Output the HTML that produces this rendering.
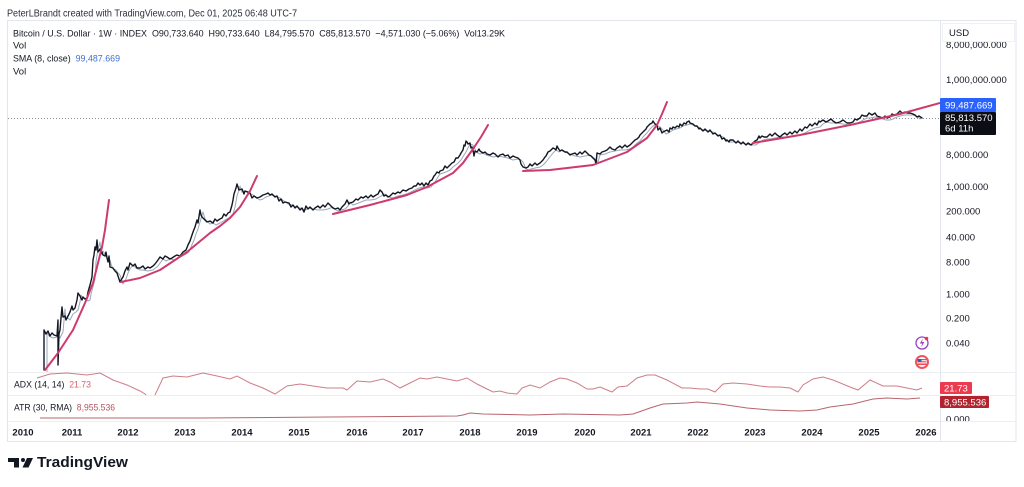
<!DOCTYPE html>
<html><head><meta charset="utf-8"><style>
html,body{margin:0;padding:0;background:#fff;}
svg{display:block;font-family:"Liberation Sans",sans-serif;}
</style></head><body>
<svg width="1024" height="487" viewBox="0 0 1024 487" xmlns="http://www.w3.org/2000/svg">
<defs>
<clipPath id="main"><rect x="8" y="21" width="932" height="351"/></clipPath>
<clipPath id="adx"><rect x="8" y="372" width="932" height="23"/></clipPath>
<clipPath id="axisclip"><rect x="941" y="42" width="75" height="379"/></clipPath>
</defs>
<rect width="1024" height="487" fill="#fff"/>
<text x="7" y="16.5" font-size="10" fill="#2a2e39" textLength="290" lengthAdjust="spacingAndGlyphs">PeterLBrandt created with TradingView.com, Dec 01, 2025 06:48 UTC-7</text>

<!-- panel -->
<rect x="7.5" y="20.5" width="1008.5" height="421" fill="#fff" stroke="#e3e6ec" stroke-width="1"/>
<line x1="8" y1="372.5" x2="1016" y2="372.5" stroke="#eceef2"/>
<line x1="8" y1="395.5" x2="1016" y2="395.5" stroke="#eceef2"/>
<line x1="8" y1="421.5" x2="1016" y2="421.5" stroke="#eceef2"/>
<line x1="940.5" y1="21" x2="940.5" y2="441" stroke="#e3e6ec"/>

<!-- legend -->
<g font-size="9.5" fill="#131722">
<text x="13" y="36.5" textLength="492" lengthAdjust="spacingAndGlyphs">Bitcoin / U.S. Dollar · 1W · INDEX&#160;&#160;O90,733.640&#160;&#160;H90,733.640&#160;&#160;L84,795.570&#160;&#160;C85,813.570&#160;&#160;−4,571.030 (−5.06%)&#160;&#160;Vol13.29K</text>
<text x="13" y="48.5">Vol</text>
<text x="13" y="61.5" textLength="107" lengthAdjust="spacingAndGlyphs">SMA (8, close)&#160;&#160;<tspan fill="#3f6fd1">99,487.669</tspan></text>
<text x="13" y="74.5">Vol</text>
</g>

<!-- dotted current price line -->
<line x1="8" y1="118.5" x2="940" y2="118.5" stroke="#8a8e99" stroke-width="1" stroke-dasharray="1,2"/>

<g clip-path="url(#main)" fill="none" stroke-linejoin="round" stroke-linecap="round">
<!-- SMA approx -->
<polyline transform="translate(3,2)" stroke="#9aa7ba" stroke-width="1" points="44,370 44,330 46,334 50,336 54,335 57,336 60,330 62,307 63,317 65,316 67,318 70,312 73,310 75,308 77,300 78,293 80,296 83,297 85,299 87,298 88,292 90,285 92,277 93,260 95,247 97,240 98,252 100,249 102,252 103,255 105,256 107,258 108,262 110,267 113,268 115,271 117,273 119,279 120,282 121,280 123,277 125,271 127,267 130,263 133,266 137,268 140,268 145,269 150,268 155,264 160,257 163,259 167,257 172,258 177,255 183,252 186,250 188,245 191,238 193,232 195,227 197,220 200,210 202,217 205,220 207,222 210,221 213,223 217,221 222,218 226,216 230,212 232,205 234,194 236,188 237,184 239,190 242,189 245,191 248,192 250,193 254,196 257,198 260,197 263,195 266,194 268,193 272,194 277,196 281,199 285,202 289,203 293,205 297,206 302,208 306,206 310,207 315,208 320,208 325,207 330,205 333,208 335,209 338,208 342,207 345,204 347,200 350,203 353,202 358,200 363,198 368,198 373,197 378,194 382,192 386,195 390,196 395,194 400,193 406,191 412,188 416,186 420,185 424,186 428,185 432,180 435,175 437,172 440,171 443,170 447,168 450,165 454,162 458,158 461,153 463,150 465,146 467,142 470,143 472,147 473,150 475,151 477,152 480,151 483,153 487,154 490,155 495,154 500,155 505,156 510,158 515,157 518,158 520,160 523,167 526,168 528,167 532,166 537,165 540,163 543,160 546,156 550,151 553,148 556,150 558,148 562,150 567,152 572,154 577,155 582,154 587,153 591,156 595,160 597,153 602,152 607,150 612,149 617,148 622,148 627,147 630,145 633,142 637,139 640,135 644,131 647,127 650,124 652,123 655,124 657,125 660,128 663,132 665,131 667,130 670,128 673,127 677,126 680,124 684,123 687,122 690,123 693,124 697,126 700,128 705,129 710,130 715,133 720,135 724,138 727,140 730,140 733,140 738,141 743,142 748,143 753,143 757,140 760,138 764,137 767,137 772,136 777,135 782,135 787,135 792,134 797,133 802,131 807,128 812,126 817,125 820,122 823,120 828,121 833,121 840,122 847,123 850,123 853,122 857,120 860,118 864,116 867,116 872,115 877,116 880,117 883,118 887,118 890,117 894,115 897,114 902,113 907,113 910,113 913,114 915,115 917,117"/>
<!-- price -->
<polyline stroke="#131722" stroke-width="1.4" points="44,370 44,330 46,334 48,331 50,336 52,333 54,335 57,336 58,320 58,365 59,334 60,330 61,318 62,307 63,317 65,316 66,320 67,318 69,314 70,312 72,306 73,310 75,308 77,300 78,293 80,296 82,300 83,297 85,299 87,298 88,292 90,285 91,281 92,277 93,260 94,255 95,247 96,250 97,240 98,252 100,249 101,254 102,252 103,255 105,256 106,252 107,258 108,262 109,256 110,267 113,268 115,271 117,273 118,276 119,279 120,282 121,280 123,277 125,271 127,267 128,270 130,263 132,265 133,266 135,264 137,268 140,268 143,266 145,269 148,267 150,268 153,266 155,264 158,260 160,257 163,259 165,256 167,257 170,259 172,258 175,256 177,255 180,256 183,252 186,250 188,245 190,241 191,238 193,232 195,227 197,220 198,223 200,210 201,215 202,217 205,220 207,222 210,221 213,223 215,219 217,221 220,219 222,218 224,214 226,216 228,213 230,212 232,205 233,200 234,194 236,188 237,184 238,187 239,190 242,189 244,194 245,191 248,192 250,193 252,198 254,196 257,198 260,197 263,195 266,194 268,193 270,195 272,194 275,197 277,196 279,201 281,199 283,203 285,202 289,203 291,207 293,205 295,208 297,206 300,210 302,208 304,212 306,206 308,209 310,207 313,210 315,208 318,206 320,208 323,205 325,207 328,203 330,205 333,208 335,209 338,208 340,210 342,207 345,204 347,200 349,204 350,203 353,202 356,199 358,200 361,197 363,198 366,196 368,198 371,195 373,197 376,195 378,194 380,190 382,192 384,196 386,195 388,197 390,196 393,193 395,194 398,192 400,193 403,190 406,191 409,189 412,188 414,186 416,186 418,183 420,185 422,183 424,186 426,183 428,185 430,181 432,180 434,176 435,175 437,172 439,173 440,171 443,170 445,166 447,168 450,165 452,163 454,162 456,158 458,158 460,155 461,153 463,150 464,145 465,146 466,141 467,142 468,144 470,143 471,148 472,147 473,150 474,156 475,151 477,152 479,149 480,151 483,153 485,152 487,154 490,155 493,153 495,154 498,157 500,155 503,154 505,156 508,155 510,158 513,156 515,157 518,158 520,160 521,164 523,167 526,168 528,167 530,164 532,166 535,163 537,165 540,163 543,160 545,157 546,156 548,152 550,151 553,148 555,149 556,150 557,146 558,148 560,151 562,150 565,152 567,152 570,155 572,154 575,153 577,155 580,152 582,154 585,151 587,153 589,155 591,156 593,158 595,160 596,164 597,153 600,154 602,152 605,151 607,150 610,147 612,149 615,150 617,148 620,146 622,148 625,145 627,147 630,145 633,142 635,140 637,139 639,137 640,135 642,133 644,131 646,129 647,127 649,125 650,124 652,123 653,121 655,124 657,125 658,130 660,128 662,133 663,132 665,131 667,130 669,132 670,128 672,129 673,127 675,128 677,126 679,127 680,124 682,126 684,123 686,124 687,122 689,121 690,123 693,124 695,126 697,126 699,129 700,128 703,131 705,129 708,132 710,130 713,134 715,133 718,136 720,135 722,139 724,138 726,141 727,140 729,142 730,140 733,140 736,143 738,141 741,144 743,142 746,145 748,143 751,145 753,143 755,141 757,140 759,136 760,138 762,136 764,137 767,137 770,134 772,136 775,133 777,135 780,137 782,135 785,133 787,135 790,132 792,134 795,131 797,133 800,129 802,131 805,127 807,128 810,124 812,126 815,123 817,125 819,121 820,122 823,120 826,122 828,121 831,119 833,121 836,123 840,122 843,120 847,123 850,123 853,122 855,119 857,120 860,118 862,115 864,116 867,116 869,113 872,115 875,113 877,116 880,117 883,118 885,116 887,118 890,117 892,114 894,115 897,114 900,111 902,113 905,112 907,113 910,113 913,114 915,115 917,117 919,116 922,118"/>
<!-- pink curves -->
<g stroke="#cd3a6c" stroke-width="2">
<polyline points="45,370 58,353 73,330 85,303 93,283 98,263 102,247 105,230 107,215 109,200"/>
<polyline points="121,282 140,278 160,270 187,252 210,233 220,226 230,218 240,207 250,191 257,176"/>
<polyline points="333,214 370,205 407,195 427,187 453,173 463,163 473,149 481,137 488,125"/>
<polyline points="523,171 550,170 593,165 627,152 647,138 657,125 662,114 667,102"/>
<polyline points="753,143 800,135 850,125 900,114 940,103"/>
</g>
</g>

<!-- ADX -->
<g clip-path="url(#adx)">
<polyline fill="none" stroke="#cf7d87" stroke-width="1" points="37,378 50,374 67,373 87,375 100,373 113,380 127,385 140,391 145,394 150,400 155,395 163,378 173,376 187,377 203,373 217,376 230,379 237,376 250,383 263,388 275,394 287,386 300,384 313,386 327,388 330,388 343,388 347,390 357,381 370,382 383,379 390,382 400,388 410,383 420,378 427,379 437,377 447,379 457,381 467,378 477,384 487,389 493,392 500,391 507,393 517,394 522,388 530,385 540,388 550,382 560,378 567,379 577,383 587,389 593,389 600,387 612,392 618,387 627,386 637,378 647,375 655,375 667,380 682,388 690,388 700,389 708,389 715,392 723,384 733,383 747,384 760,386 770,387 780,387 790,388 798,392 803,385 813,379 823,377 833,380 850,387 858,390 870,380 883,386 897,386 907,388 917,390 922,388"/>
</g>
<!-- ATR -->
<polyline fill="none" stroke="#b7656d" stroke-width="1" points="40,418 200,418 330,417 457,416 463,415 470,413 483,414 530,415 563,414 620,415 633,414 650,408 663,404 687,403 697,402 720,404 747,408 770,410 800,411 817,410 830,407 853,404 873,399 887,398 907,399 920,398"/>

<g font-size="9.5">
<text x="14" y="387.5" fill="#131722" textLength="77" lengthAdjust="spacingAndGlyphs">ADX (14, 14)&#160;&#160;<tspan fill="#d8616f">21.73</tspan></text>
<text x="14" y="410.5" fill="#131722" textLength="101" lengthAdjust="spacingAndGlyphs">ATR (30, RMA)&#160;&#160;<tspan fill="#b0545c">8,955.536</tspan></text>
</g>

<!-- right axis -->
<g font-size="9.5" fill="#131722" clip-path="url(#axisclip)">
<text x="946" y="48">8,000,000.000</text>
<text x="946" y="83">1,000,000.000</text>
<text x="946" y="158">8,000.000</text>
<text x="946" y="190">1,000.000</text>
<text x="946" y="214.5">200.000</text>
<text x="946" y="240.5">40.000</text>
<text x="946" y="265.5">8.000</text>
<text x="946" y="297.5">1.000</text>
<text x="946" y="321.5">0.200</text>
<text x="946" y="346.5">0.040</text>
<text x="946" y="422.5">0.000</text>
</g>
<rect x="942.5" y="23.5" width="72" height="18" fill="#fff" stroke="#f0f1f4"/>
<text x="949" y="36" font-size="9.5" fill="#131722">USD</text>

<rect x="940" y="98" width="56" height="14" fill="#2962ff" rx="1"/>
<text x="945" y="108.5" font-size="9.5" fill="#fff">99,487.669</text>
<rect x="940" y="112" width="56" height="23" fill="#0c0e15" rx="1"/>
<text x="945" y="121" font-size="9.5" fill="#fff">85,813.570</text>
<text x="945" y="131.5" font-size="9.5" fill="#fff">6d 11h</text>

<rect x="940" y="382" width="32" height="12" fill="#ec3a4f" rx="1"/>
<text x="944" y="391.5" font-size="9.5" fill="#fff">21.73</text>
<rect x="940" y="396" width="49" height="12" fill="#b0232f" rx="1"/>
<text x="944" y="405.5" font-size="9.5" fill="#fff">8,955.536</text>

<!-- icons -->
<circle cx="922" cy="343" r="6" fill="#fff" stroke="#9b3fc4" stroke-width="1.3"/>
<path d="M923,338.5 L919.8,343.5 L922.3,343.5 L921,347.5 L924.4,342 L921.9,342 Z" fill="#9b3fc4"/>
<circle cx="926.5" cy="338.5" r="1.8" fill="#e53950"/>
<circle cx="922" cy="362" r="7" fill="#f1525f"/>
<circle cx="922" cy="362" r="5" fill="#fff"/>
<rect x="917.5" y="359" width="9" height="6" fill="#e8505c"/>
<rect x="917.5" y="360.2" width="9" height="1" fill="#fff"/>
<rect x="917.5" y="362.4" width="9" height="1" fill="#fff"/>
<rect x="917.5" y="359" width="4" height="3" fill="#3d5bb5"/>

<!-- time axis -->
<g font-size="9.5" font-weight="bold" fill="#131722" text-anchor="middle">
<text x="23" y="435.5">2010</text>
<text x="72" y="435.5">2011</text>
<text x="128" y="435.5">2012</text>
<text x="185" y="435.5">2013</text>
<text x="242" y="435.5">2014</text>
<text x="299" y="435.5">2015</text>
<text x="357" y="435.5">2016</text>
<text x="413" y="435.5">2017</text>
<text x="470" y="435.5">2018</text>
<text x="527" y="435.5">2019</text>
<text x="585" y="435.5">2020</text>
<text x="641" y="435.5">2021</text>
<text x="698" y="435.5">2022</text>
<text x="755" y="435.5">2023</text>
<text x="812" y="435.5">2024</text>
<text x="869" y="435.5">2025</text>
<text x="926" y="435.5">2026</text>
</g>

<!-- TradingView logo -->
<g fill="#131722">
<rect x="8" y="458" width="11" height="4"/>
<rect x="14" y="458" width="5" height="9.5"/>
<circle cx="23" cy="460" r="2"/>
<polygon points="27,458 33,458 28.5,467.5 22.5,467.5"/>
<text x="37" y="467" font-size="15" font-weight="bold" textLength="91" lengthAdjust="spacingAndGlyphs">TradingView</text>
</g>
</svg>
</body></html>
